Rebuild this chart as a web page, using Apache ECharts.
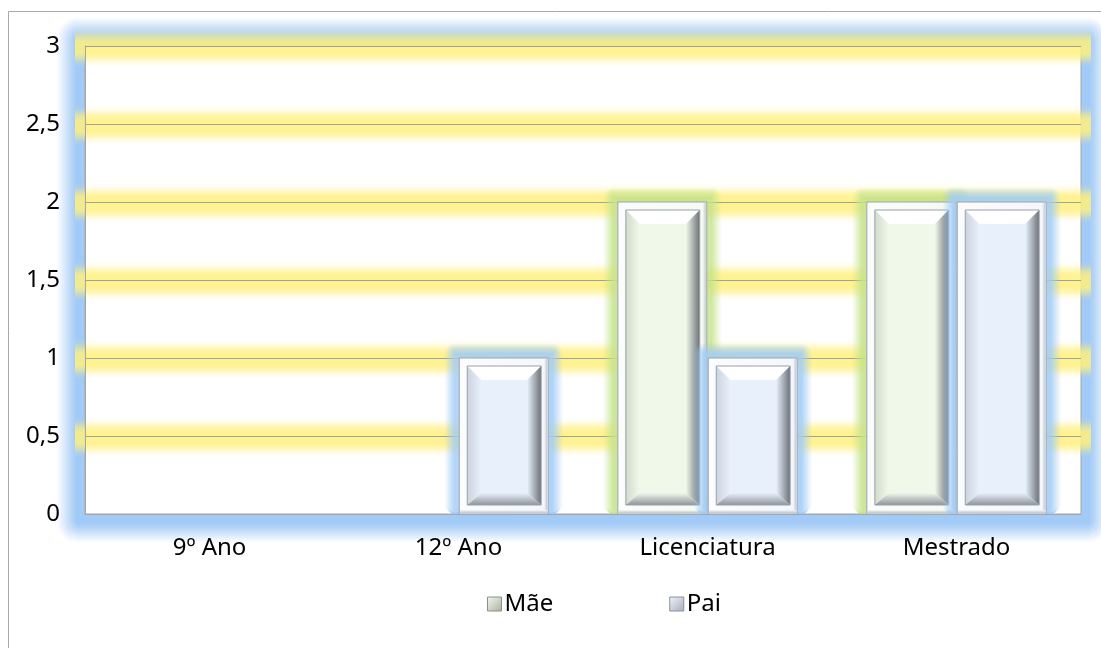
<!DOCTYPE html>
<html>
<head>
    <meta charset="utf-8">
    <title>Mãe / Pai</title>
    <script src="https://cdn.jsdelivr.net/npm/echarts/dist/echarts.min.js"></script>
    <style>
        html, body { margin: 0; padding: 0; background: #fff; }
    </style>
</head>
<body>
<div id="chart-container" style="width: 1101px; height: 648px;"></div>
<script>
    // dados do gráfico
    var categorias = ['9º Ano', '12º Ano', 'Licenciatura', 'Mestrado'];
    var maeValores = [0, 0, 2, 2];
    var paiValores = [0, 1, 1, 2];
    var yTicks = { min: 0, max: 3, interval: 0.5 };
    var linhasBrilho = [0.5, 1, 1.5, 2, 2.5, 3];

    var FONT = 'Noto Sans';
    var FS = 24;

    // cores de cada série (face, moldura, brilho em rgb)
    var estilos = [
        { face: '#f0f8ea', frame: '#f5faf1', left: '#d2dccb', glow: [196, 226, 140] },
        { face: '#e8f0fc', frame: '#f3f6fc', left: '#cdd3de', glow: [160, 204, 246] }
    ];

    function lg(x0, y0, x1, y1, stops) {
        return new echarts.graphic.LinearGradient(x0, y0, x1, y1, stops.map(function (s) {
            return { offset: s[0], color: s[1] };
        }));
    }

    function rgba(c, a) {
        return 'rgba(' + c[0] + ',' + c[1] + ',' + c[2] + ',' + a.toFixed(3) + ')';
    }

    // alfa do brilho: cheio até "solido" px, depois esbate até "total" px
    function alfaBrilho(k, solido, total, maximo) {
        if (k <= solido) return maximo;
        var t = Math.min(1, (k - solido) / (total - solido));
        return maximo * Math.pow(1 - t, 1.3);
    }

    // barra com efeito de bisel (estilo Excel)
    function desenhaBarra(params, api) {
        var ci = api.value(0);
        var v = api.value(1);
        if (!v) return;
        var base = api.coord([ci, 0]);
        var topo = api.coord([ci, v]);
        var band = api.size([1, 0])[0];
        var bw = band * 0.357;
        var gap = 1.5;
        var s = estilos[params.seriesIndex];
        var x = params.seriesIndex === 0 ? base[0] - gap / 2 - bw : base[0] + gap / 2;
        var y = topo[1];
        var w = bw;
        var h = base[1] - topo[1];

        var children = [];
        for (var k = 16; k >= 1; k--) {
            children.push({
                type: 'rect',
                shape: { x: x - k + 0.5, y: y - k + 0.5, width: w + 2 * k - 1, height: h + k - 1, r: Math.max(0, k - 5) },
                style: { fill: 'none', stroke: rgba(s.glow, alfaBrilho(k, 5, 16, 0.8)), lineWidth: 1.3 }
            });
        }

        var ix0 = x + 8, iy0 = y + 8, ix1 = x + w - 7, iy1 = y + h - 9;
        var fx0 = ix0 + 14, fy0 = iy0 + 14, fx1 = ix1 - 14, fy1 = iy1 - 12;

        children.push(
            {
                type: 'rect',
                shape: { x: x, y: y, width: w, height: h },
                style: { fill: lg(0, 0, 1, 0, [[0, '#fbfcfd'], [1, s.frame]]), stroke: '#9ea3ab', lineWidth: 1 }
            },
            {
                type: 'rect',
                shape: { x: x + w - 4, y: y + 1, width: 3, height: h - 2 },
                style: { fill: lg(0, 0, 1, 0, [[0, s.frame], [1, '#c4c8d0']]) }
            },
            {
                type: 'rect',
                shape: { x: x + 1, y: y + h - 4, width: w - 2, height: 3 },
                style: { fill: lg(0, 0, 0, 1, [[0, s.frame], [1, '#c0c4cc']]) }
            },
            {
                type: 'polygon',
                shape: { points: [[ix0, iy0], [ix1, iy0], [fx1, fy0], [fx0, fy0]] },
                style: { fill: '#ffffff' }
            },
            {
                type: 'polygon',
                shape: { points: [[ix0, iy0], [fx0, fy0], [fx0, fy1], [ix0, iy1]] },
                style: { fill: lg(0, 0, 1, 0, [[0, s.left], [1, s.face]]) }
            },
            {
                type: 'polygon',
                shape: { points: [[ix1, iy0], [ix1, iy1], [fx1, fy1], [fx1, fy0]] },
                style: { fill: lg(0, 0, 1, 0, [[0, s.face], [1, '#6c7278']]) }
            },
            {
                type: 'polygon',
                shape: { points: [[ix0, iy1], [ix1, iy1], [fx1, fy1], [fx0, fy1]] },
                style: { fill: lg(0, 0, 0, 1, [[0, s.face], [1, '#8e949c']]) }
            },
            {
                type: 'rect',
                shape: { x: fx0, y: fy0, width: fx1 - fx0, height: fy1 - fy0 },
                style: { fill: s.face }
            },
            {
                type: 'rect',
                shape: { x: ix0, y: iy0, width: ix1 - ix0, height: iy1 - iy0 },
                style: { fill: 'none', stroke: '#9aa0a8', lineWidth: 1 }
            }
        );
        return { type: 'group', children: children };
    }

    // faixa amarela esbatida à volta de cada linha de grelha
    function desenhaFaixa(params, api) {
        var y = api.coord([0, api.value(1)])[1];
        var cs = params.coordSys;
        var x0 = cs.x - 10, x1 = cs.x + cs.width + 10;
        var cor = function (a) { return 'rgba(255,240,125,' + a + ')'; };
        return {
            type: 'rect',
            shape: { x: x0, y: y - 19, width: x1 - x0, height: 40 },
            style: {
                fill: lg(0, 0, 0, 1, [
                    [0, cor(0)], [0.12, cor(0.15)], [0.27, cor(0.65)], [0.38, cor(0.85)], [0.5, cor(0.85)],
                    [0.65, cor(0.85)], [0.77, cor(0.6)], [0.9, cor(0.15)], [1, cor(0)]
                ])
            }
        };
    }

    // brilho azul à volta da área de desenho
    function brilhoGrelha(gx, gy, gw, gh) {
        var els = [];
        var azul = [158, 200, 245];
        for (var k = 30; k >= 1; k--) {
            els.push({
                type: 'rect',
                z: -10,
                shape: { x: gx - k + 0.5, y: gy - k + 0.5, width: gw + 2 * k - 1, height: gh + 2 * k - 1, r: Math.max(0, k - 8) },
                style: { fill: 'none', stroke: rgba(azul, alfaBrilho(k, 9, 30, 0.95)), lineWidth: 1.3 }
            });
        }
        return els;
    }

    function serieDados(valores) {
        return valores.map(function (v, i) { return [i, v]; });
    }

    var G = { left: 85, top: 46, width: 996, height: 468 };

    var option = {
        backgroundColor: '#fff',
        animation: false,
        textStyle: { fontFamily: FONT },
        graphic: brilhoGrelha(G.left, G.top, G.width, G.height).concat([
            {
                type: 'rect',
                z: -5,
                shape: { x: 8.5, y: 11.5, width: 1200, height: 700 },
                style: { fill: 'none', stroke: '#a8a8a8', lineWidth: 1 }
            }
        ]),
        grid: {
            left: G.left,
            top: G.top,
            width: G.width,
            height: G.height,
            show: true,
            backgroundColor: '#fff',
            borderColor: '#a6a6a6',
            borderWidth: 1,
            z: -1
        },
        legend: {
            left: 487,
            top: 592,
            padding: 0,
            itemWidth: 14,
            itemHeight: 14,
            itemGap: 116,
            textStyle: { fontFamily: FONT, fontSize: FS, color: '#000', padding: [0, 0, 0, -2] },
            data: [
                { name: 'Mãe', icon: 'rect', itemStyle: { color: lg(0, 0, 1, 1, [[0, '#f4faee'], [1, '#a8b0a0']]), borderColor: '#8a9088', borderWidth: 1 } },
                { name: 'Pai', icon: 'rect', itemStyle: { color: lg(0, 0, 1, 1, [[0, '#f2f6fc'], [1, '#a4aab8']]), borderColor: '#8a90a0', borderWidth: 1 } }
            ]
        },
        xAxis: {
            type: 'category',
            data: categorias,
            axisLine: { show: true, lineStyle: { color: '#a6a6a6' } },
            axisTick: { show: false },
            splitLine: { show: false },
            axisLabel: { fontFamily: FONT, fontSize: FS, color: '#000', margin: 22 },
            z: 5
        },
        yAxis: {
            type: 'value',
            min: yTicks.min,
            max: yTicks.max,
            interval: yTicks.interval,
            axisLine: { show: true, lineStyle: { color: '#a6a6a6' } },
            axisTick: { show: false },
            axisLabel: {
                fontFamily: FONT, fontSize: FS, color: '#000', margin: 25,
                formatter: function (v) { return String(v).replace('.', ','); }
            },
            splitLine: { show: true, lineStyle: { color: '#a0a0a0', width: 1 } },
            z: 1
        },
        series: [
            {
                name: 'Mãe',
                type: 'custom',
                renderItem: desenhaBarra,
                encode: { x: 0, y: 1 },
                data: serieDados(maeValores),
                z: 3
            },
            {
                name: 'Pai',
                type: 'custom',
                renderItem: desenhaBarra,
                encode: { x: 0, y: 1 },
                data: serieDados(paiValores),
                z: 4
            },
            {
                name: 'faixas',
                type: 'custom',
                renderItem: desenhaFaixa,
                encode: { x: 0, y: 1 },
                data: linhasBrilho.map(function (v) { return [0, v]; }),
                silent: true,
                z: 0
            }
        ]
    };

    var chart = echarts.init(document.getElementById('chart-container'));
    chart.setOption(option);
</script>
</body>
</html>
